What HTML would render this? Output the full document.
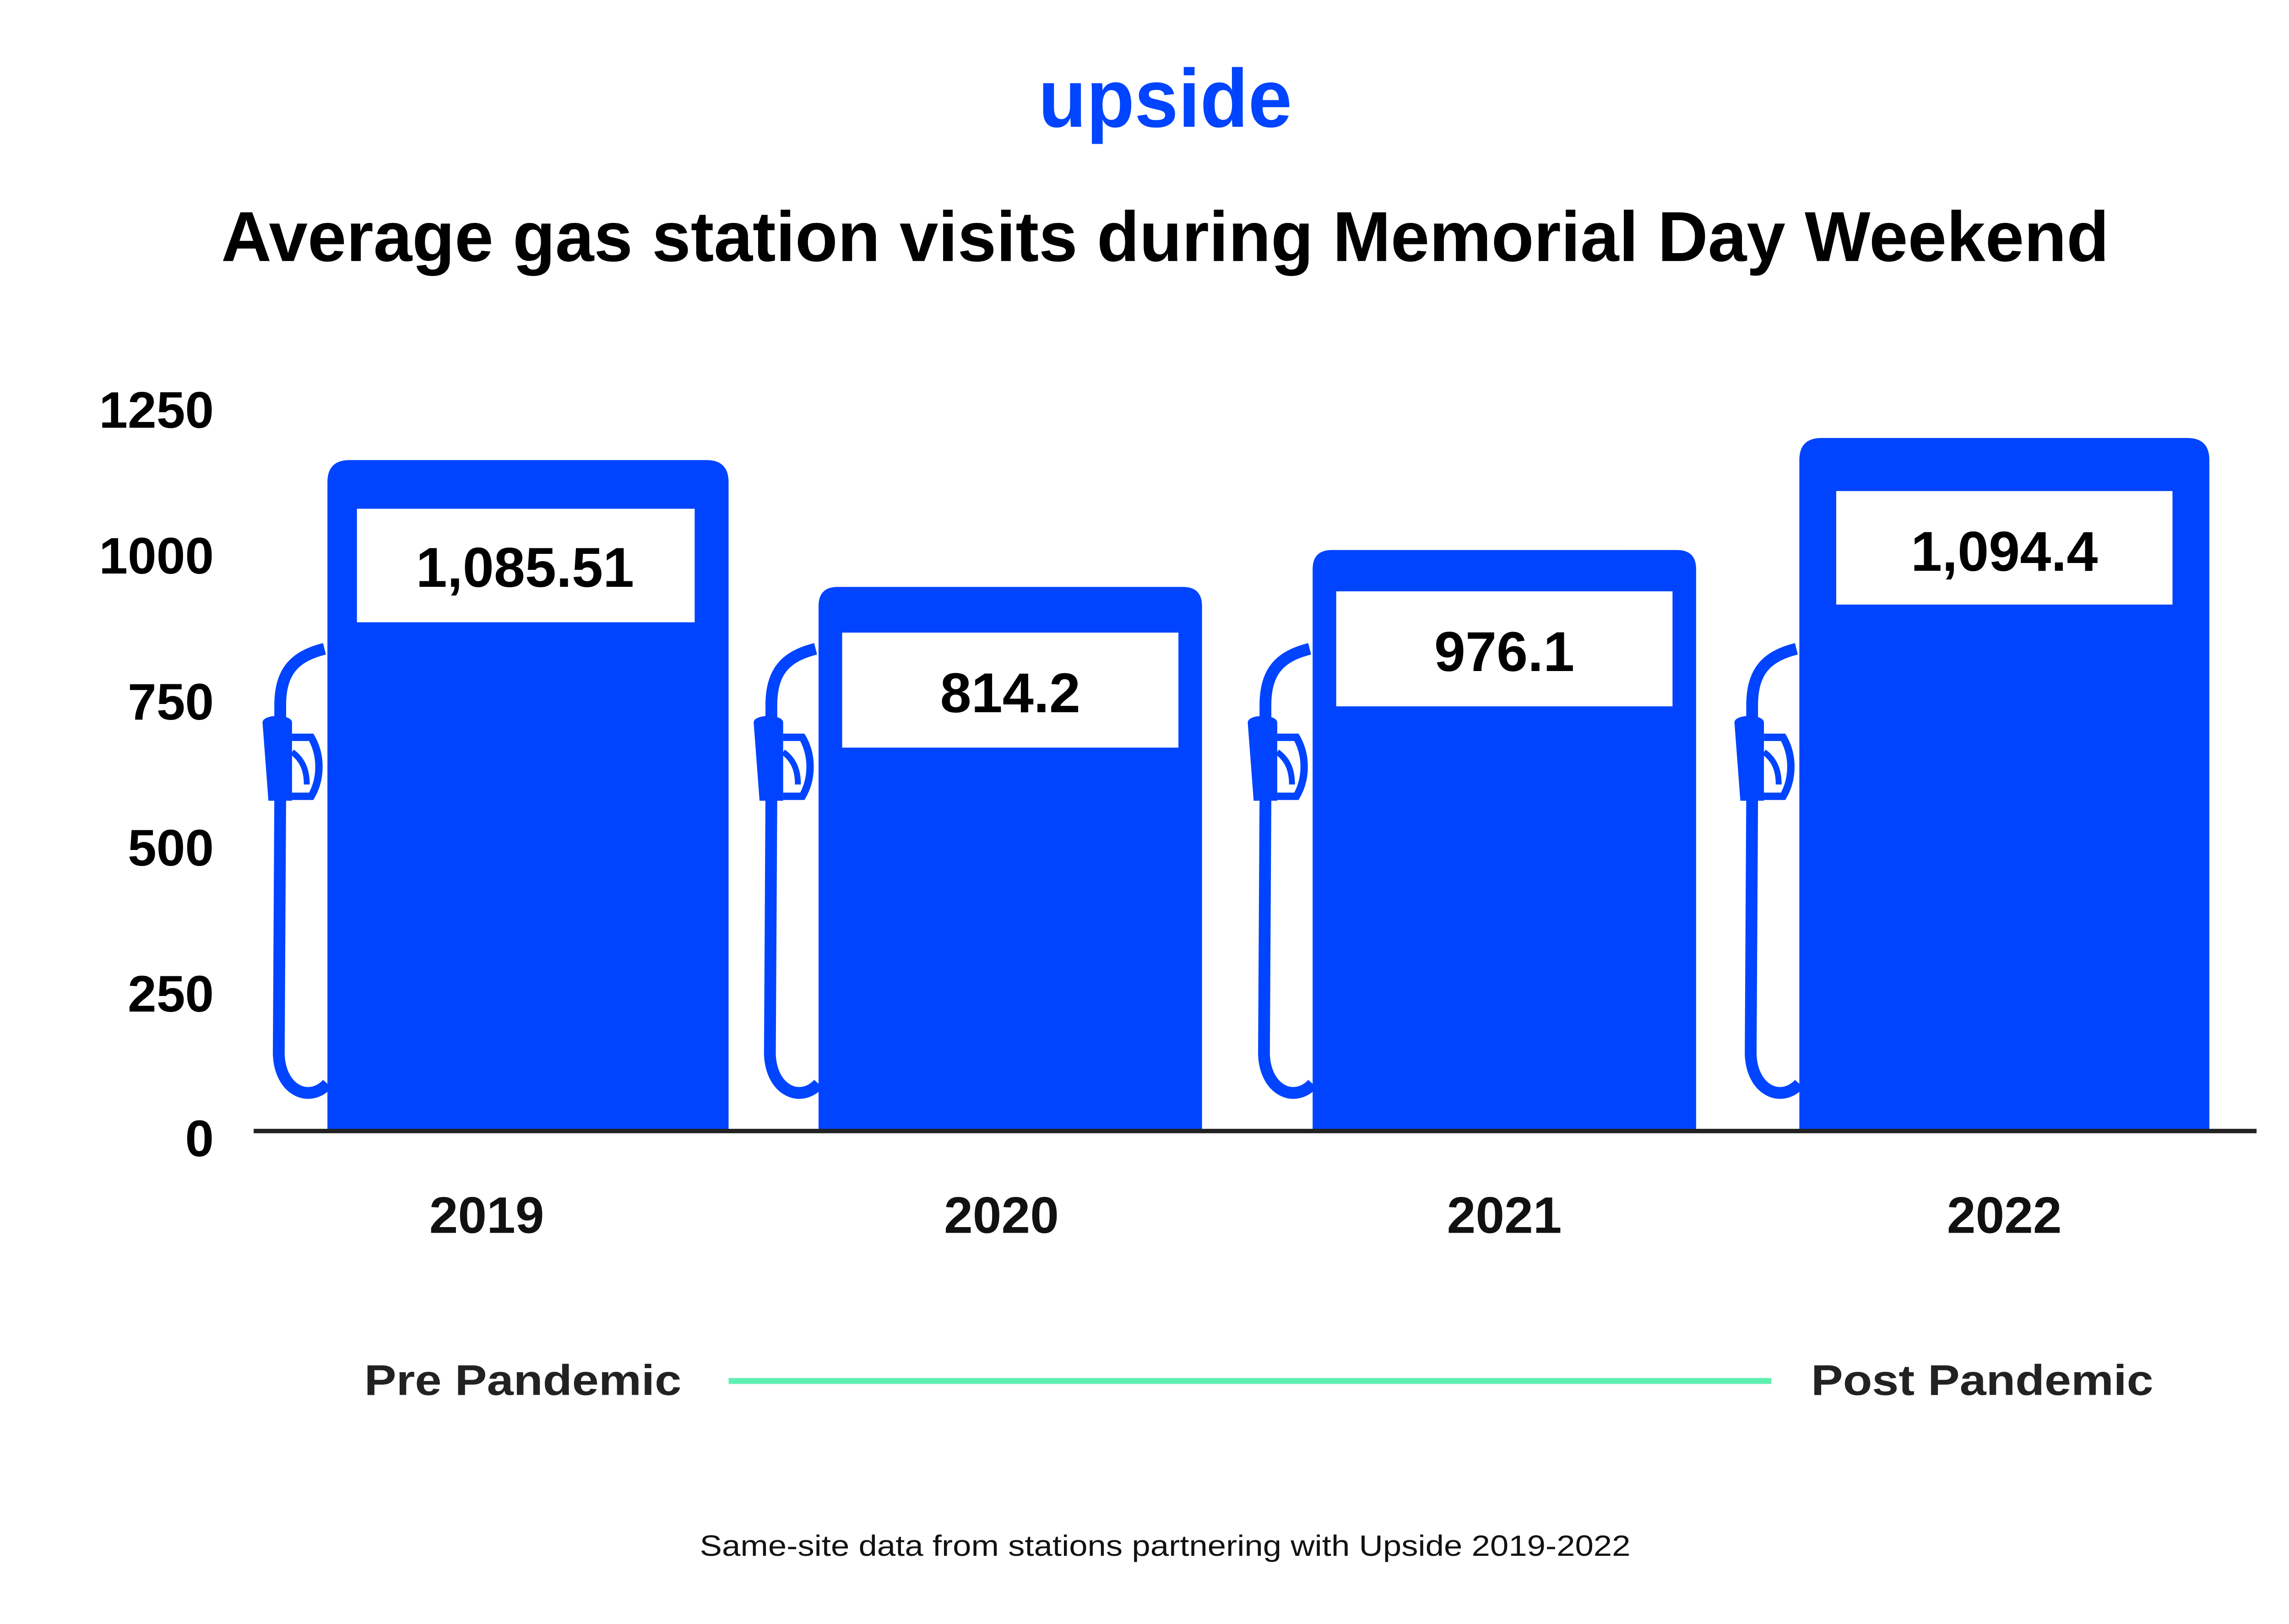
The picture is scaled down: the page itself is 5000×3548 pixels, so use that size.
<!DOCTYPE html>
<html><head><meta charset="utf-8"><style>
html,body{margin:0;padding:0;background:#fff}
svg{display:block}
text{font-family:"Liberation Sans",sans-serif;font-weight:bold}
</style></head><body>
<svg width="5000" height="3548" viewBox="0 0 1552 1101.3" xmlns="http://www.w3.org/2000/svg">
<rect width="1552" height="1101.3" fill="#fff"/>
<text x="790" y="86" text-anchor="middle" font-size="56" fill="#0044ff" textLength="172" lengthAdjust="spacingAndGlyphs">upside</text>
<text x="790" y="177" text-anchor="middle" font-size="48" fill="#000" textLength="1280" lengthAdjust="spacingAndGlyphs">Average gas station visits during Memorial Day Weekend</text>
<g font-size="35" fill="#000" text-anchor="end">
<text x="145" y="290">1250</text>
<text x="145" y="389">1000</text>
<text x="145" y="488">750</text>
<text x="145" y="587">500</text>
<text x="145" y="686">250</text>
<text x="145" y="784">0</text>
</g>
<defs>
<g id="hose" fill="none" stroke="#0044ff" stroke-width="8">
<path d="M220,440 C200,445 190,455 190,478 L190,490"/>
<path d="M190,540 L189,715 C190,740 210,748 222,735"/>
<path d="M198,500 L211,500 C218,512 218,528 211,540 L198,540" stroke-width="5"/>
<path d="M198,510 C205,515 208,522 208,532" stroke-width="4"/>
</g>
<path id="noz" d="M178,490 C178,484 198,484 198,490 L198,543 L182,543 Z" fill="#0044ff"/>
</defs>
<g>
<use href="#hose"/><use href="#noz"/>
<path d="M222,767 V327 Q222,312 237,312 H479 Q494,312 494,327 V767 Z" fill="#0044ff"/>
<rect x="242" y="345" width="229" height="77" fill="#fff"/>
<text x="356" y="398" text-anchor="middle" font-size="38" fill="#000">1,085.51</text>
</g>
<g>
<use href="#hose" transform="translate(333,0)"/><use href="#noz" transform="translate(333,0)"/>
<path d="M555,767 V411 Q555,398 568,398 H802 Q815,398 815,411 V767 Z" fill="#0044ff"/>
<rect x="571" y="429" width="228" height="78" fill="#fff"/>
<text x="685" y="483" text-anchor="middle" font-size="38" fill="#000">814.2</text>
</g>
<g>
<use href="#hose" transform="translate(668,0)"/><use href="#noz" transform="translate(668,0)"/>
<path d="M890,767 V386 Q890,373 903,373 H1137 Q1150,373 1150,386 V767 Z" fill="#0044ff"/>
<rect x="906" y="401" width="228" height="78" fill="#fff"/>
<text x="1020" y="455" text-anchor="middle" font-size="38" fill="#000">976.1</text>
</g>
<g>
<use href="#hose" transform="translate(998,0)"/><use href="#noz" transform="translate(998,0)"/>
<path d="M1220,767 V312 Q1220,297 1235,297 H1483 Q1498,297 1498,312 V767 Z" fill="#0044ff"/>
<rect x="1245" y="333" width="228" height="77" fill="#fff"/>
<text x="1359" y="387" text-anchor="middle" font-size="38" fill="#000">1,094.4</text>
</g>
<rect x="172" y="765.5" width="1358" height="3" fill="#222"/>
<g font-size="35" fill="#111" text-anchor="middle">
<text x="330" y="836">2019</text>
<text x="679" y="836">2020</text>
<text x="1020" y="836">2021</text>
<text x="1359" y="836">2022</text>
</g>
<text x="247" y="946" font-size="29" fill="#222" textLength="215" lengthAdjust="spacingAndGlyphs">Pre Pandemic</text>
<rect x="494" y="934.5" width="707" height="4" fill="#5ef0b0"/>
<text x="1228" y="946" font-size="29" fill="#222" textLength="232" lengthAdjust="spacingAndGlyphs">Post Pandemic</text>
<text x="790" y="1055" text-anchor="middle" font-size="20" fill="#111" style="font-weight:normal" textLength="631" lengthAdjust="spacingAndGlyphs">Same-site data from stations partnering with Upside 2019-2022</text>
</svg>
</body></html>
